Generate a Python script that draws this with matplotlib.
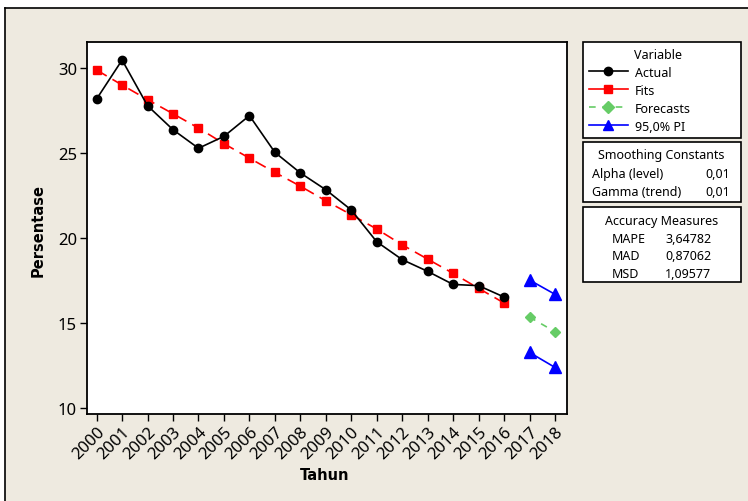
import matplotlib
matplotlib.use('Agg')
import matplotlib.pyplot as plt
from matplotlib.patches import Rectangle
from matplotlib.lines import Line2D

plt.rcParams['font.family'] = ['Noto Sans', 'DejaVu Sans']

# ---- data ----
years = list(range(2000, 2019))
actual_years = list(range(2000, 2017))
actual = [28.18, 30.47, 27.78, 26.37, 25.28, 25.98, 27.20, 25.04, 23.83, 22.84,
          21.65, 19.78, 18.73, 18.04, 17.27, 17.20, 16.53]
fits = [29.88, 29.00, 28.14, 27.31, 26.47, 25.55, 24.70, 23.86, 23.05, 22.19,
        21.37, 20.53, 19.60, 18.76, 17.92, 17.04, 16.18]
forecast_years = [2017, 2018]
forecasts = [15.35, 14.49]
pi_upper = [17.53, 16.69]
pi_lower = [13.27, 12.39]
yticks = [10, 15, 20, 25, 30]

legend_title = "Variable"
legend_labels = ['Actual', 'Fits', 'Forecasts', '95,0% PI']
smooth_title = "Smoothing Constants"
smooth_labels = ["Alpha (level)", "Gamma (trend)"]
smooth_values = ["0,01", "0,01"]
acc_title = "Accuracy Measures"
acc_labels = ["MAPE", "MAD", "MSD"]
acc_values = ["3,64782", "0,87062", "1,09577"]

W, H = 748, 502
def fx(px):
    return px / W
def fy(py):
    return 1 - py / H

BG = '#EEEAE0'
FS = 9
fig = plt.figure(figsize=(W / 100, H / 100), dpi=100, facecolor='white')

# beige panel with top/left border
fig.patches.append(Rectangle((fx(5), 0), 1 - fx(5), fy(9), transform=fig.transFigure,
                             facecolor=BG, edgecolor='none', zorder=-10))
fig.lines.append(Line2D([fx(5), 1], [fy(9), fy(9)], transform=fig.transFigure,
                        color='black', lw=1.2, zorder=-5))
fig.lines.append(Line2D([fx(5), fx(5)], [fy(9), 0], transform=fig.transFigure,
                        color='black', lw=1.2, zorder=-5))

ax = fig.add_axes([fx(86.7), fy(415), fx(566.7) - fx(86.7), fy(43) - fy(415)])
ax.set_facecolor('white')

ax.plot(actual_years, actual, color='black', lw=1.2, marker='o', ms=6, zorder=4)
ax.plot(actual_years, fits, color='#FF0000', lw=1.2, ls=(0, (7, 4)), marker='s', ms=6,
        zorder=3)
ax.plot(forecast_years, forecasts, color='#66CC66', lw=1.2, ls=(0, (4, 4)), marker='D',
        ms=5.5, zorder=3)
ax.plot(forecast_years, pi_upper, color='#0000FF', lw=1.2, marker='^', ms=8, zorder=3)
ax.plot(forecast_years, pi_lower, color='#0000FF', lw=1.2, marker='^', ms=8, zorder=3)

ax.set_xlim(1999.61, 2018.46)
ax.set_ylim(9.65, 31.53)
ax.set_yticks(yticks)
ax.set_xticks(years)
ax.set_xticklabels([str(y) for y in years], rotation=45, ha='right',
                   rotation_mode='anchor')
ax.tick_params(axis='both', direction='out', length=5, width=1, labelsize=12,
               color='black')
ax.tick_params(axis='x', pad=2)
ax.tick_params(axis='y', pad=2)
for s in ax.spines.values():
    s.set_linewidth(1.3)

ax.set_xlabel('Tahun', fontsize=10.5, fontweight='bold', family='DejaVu Sans')
ax.set_ylabel('Persentase', fontsize=10.5, fontweight='bold', family='DejaVu Sans')
ax.xaxis.set_label_coords((325 - 86.7) / 480, -(468 - 415) / 372)
ax.yaxis.set_label_coords(-(86.7 - 46) / 480, 0.497)

# ---- legend box 1 ----
handles = [
    Line2D([], [], color='black', lw=1.2, marker='o', ms=6),
    Line2D([], [], color='#FF0000', lw=1.2, marker='s', ms=6),
    Line2D([], [], color='#66CC66', lw=1.2, ls=(0, (4, 4)), marker='D', ms=6),
    Line2D([], [], color='#0000FF', lw=1.2, marker='^', ms=7),
]
leg = ax.legend(handles, legend_labels, title=' ', loc='upper left',
                bbox_to_anchor=(fx(583.3), fy(137.7), fx(740.7) - fx(583.3),
                                fy(43) - fy(137.7)),
                bbox_transform=fig.transFigure, mode='expand', borderaxespad=0,
                fancybox=False, edgecolor='black', framealpha=1, fontsize=FS,
                title_fontsize=FS, handlelength=3.1, handletextpad=0.6,
                labelspacing=0.4, borderpad=0.45, alignment='left')
leg.get_frame().set_linewidth(1.2)
fig.text(fx(657.7), fy(55.7), legend_title, ha='center', va='center', fontsize=FS,
         zorder=10)

# ---- box 2 ----
fig.patches.append(Rectangle((fx(583.3), fy(203.3)), fx(740.7) - fx(583.3),
                             fy(143.3) - fy(203.3), transform=fig.transFigure,
                             facecolor='white', edgecolor='black', lw=1.2, zorder=5))
fig.text(fx(661.7), fy(156), smooth_title, ha='center', va='center', fontsize=FS, zorder=6)
for i, (lab, val) in enumerate(zip(smooth_labels, smooth_values)):
    yy = 174.7 + i * 17.6
    fig.text(fx(592.3), fy(yy), lab, ha='left', va='center', fontsize=FS, zorder=6)
    fig.text(fx(730), fy(yy), val, ha='right', va='center', fontsize=FS, zorder=6)

# ---- box 3 ----
fig.patches.append(Rectangle((fx(583.3), fy(283.3)), fx(740.7) - fx(583.3),
                             fy(207.7) - fy(283.3), transform=fig.transFigure,
                             facecolor='white', edgecolor='black', lw=1.2, zorder=5))
fig.text(fx(661.7), fy(221), acc_title, ha='center', va='center', fontsize=FS, zorder=6)
for i, (lab, val) in enumerate(zip(acc_labels, acc_values)):
    yy = 239.3 + i * 17.5
    fig.text(fx(611.7), fy(yy), lab, ha='left', va='center', fontsize=FS, zorder=6)
    fig.text(fx(665), fy(yy), val, ha='left', va='center', fontsize=FS, zorder=6)

fig.savefig('out.png', dpi=100, facecolor='white')
